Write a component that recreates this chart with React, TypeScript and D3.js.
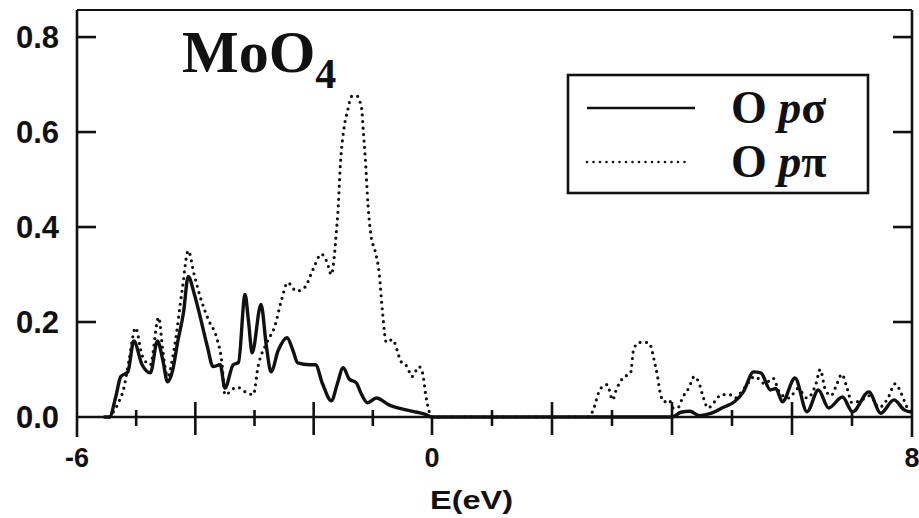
import React, { useEffect, useRef } from "react";
import * as d3 from "d3";

// O p-sigma partial DOS (solid)
const sigmaEnergy = [
  -5.55, -5.45, -5.35, -5.26, -5.14, -5.04, -4.9, -4.76, -4.64, -4.55, -4.47, -4.38, -4.3, -4.2, -4.12,
  -4.02, -3.92, -3.8, -3.7, -3.58, -3.5, -3.36, -3.27, -3.16, -3.1, -3.04, -2.89, -2.8, -2.72, -2.6,
  -2.45, -2.35, -2.27, -2.07, -1.97, -1.85, -1.7, -1.6, -1.5, -1.4, -1.28, -1.2, -1.09, -0.94, -0.72,
  -0.44, -0.25, -0.1, 0, 4.0, 4.15, 4.3, 4.45, 4.66, 4.85, 5.04, 5.19, 5.36, 5.48, 5.64, 5.73, 5.84,
  6.05, 6.25, 6.44, 6.61, 6.84, 7.01, 7.28, 7.48, 7.7, 7.87, 8.0,
];
const sigmaDos = [
  0, 0, 0.04, 0.085, 0.095, 0.16, 0.11, 0.093, 0.16, 0.12, 0.074, 0.1, 0.157, 0.22, 0.296,
  0.26, 0.212, 0.15, 0.106, 0.11, 0.061, 0.11, 0.115, 0.258, 0.2, 0.135, 0.237, 0.15, 0.095, 0.14,
  0.167, 0.14, 0.114, 0.11, 0.11, 0.07, 0.034, 0.07, 0.104, 0.08, 0.072, 0.05, 0.03, 0.04, 0.025,
  0.015, 0.01, 0.005, 0, 0, 0.01, 0.012, 0.003, 0.008, 0.02, 0.032, 0.053, 0.095, 0.093, 0.057, 0.06, 0.032,
  0.082, 0.011, 0.057, 0.019, 0.042, 0.011, 0.053, 0.008, 0.036, 0.015, 0.01,
];

// O p-pi partial DOS (dotted)
const piEnergy = [
  -5.45, -5.3, -5.21, -5.12, -5.01, -4.9, -4.76, -4.62, -4.55, -4.47, -4.35, -4.22, -4.12, -4.02, -3.92,
  -3.78, -3.63, -3.55, -3.5, -3.3, -3.13, -3.02, -2.94, -2.79, -2.66, -2.54, -2.44, -2.29, -2.15, -2.01,
  -1.87, -1.78, -1.7, -1.65, -1.61, -1.59, -1.55, -1.48, -1.43, -1.36, -1.28, -1.19, -1.16, -1.13, -1.08,
  -1.03, -0.96, -0.89, -0.84, -0.77, -0.67, -0.52, -0.42, -0.34, -0.22, -0.16, -0.1, 0, 2.6, 2.67,
  2.81, 2.92, 3.01, 3.07, 3.18, 3.31, 3.36, 3.45, 3.6, 3.65, 3.7, 3.76, 3.8, 3.87, 3.95, 4.02, 4.1,
  4.18, 4.28, 4.37, 4.45, 4.52, 4.6, 4.71, 4.82, 4.96, 5.05, 5.2, 5.38, 5.55, 5.68, 5.8, 5.95, 6.1,
  6.25, 6.4, 6.47, 6.55, 6.65, 6.75, 6.83, 6.92, 7.0, 7.15, 7.3, 7.45, 7.6, 7.72, 7.82, 7.92, 8.0,
];
const piDos = [
  0, 0.03, 0.06, 0.12, 0.188, 0.13, 0.11, 0.21, 0.14, 0.085, 0.15, 0.27, 0.35, 0.3, 0.254,
  0.205, 0.163, 0.114, 0.047, 0.063, 0.051, 0.047, 0.106, 0.157, 0.19, 0.248, 0.283, 0.265, 0.273, 0.311,
  0.343, 0.328, 0.3, 0.34, 0.4, 0.432, 0.529, 0.614, 0.643, 0.675, 0.677, 0.65, 0.6, 0.55, 0.444,
  0.381, 0.349, 0.3, 0.226, 0.157, 0.163, 0.116, 0.106, 0.085, 0.106, 0.093, 0.042, 0, 0, 0.01,
  0.06, 0.068, 0.036, 0.057, 0.082, 0.093, 0.142, 0.157, 0.157, 0.148, 0.121, 0.085, 0.053, 0.032, 0.036, 0.019, 0.02,
  0.042, 0.061, 0.085, 0.072, 0.042, 0.019, 0.032, 0.047, 0.047, 0.04, 0.06, 0.085, 0.07, 0.082, 0.05, 0.04, 0.06,
  0.04, 0.07, 0.1, 0.06, 0.045, 0.07, 0.09, 0.06, 0.03, 0.035, 0.045, 0.02, 0.04, 0.07, 0.05, 0.02, 0.01,
];

const yTicks = [0.0, 0.2, 0.4, 0.6, 0.8];
const yTickLabels = ["0.0", "0.2", "0.4", "0.6", "0.8"];
const xMajorTicks = [-4, -2, 0, 2, 4, 6];
const xMinorTicks = [-5, -3, -1, 1, 3, 5, 7];
const xTickLabels = [
  { v: -6, label: "-6" },
  { v: 0, label: "0" },
  { v: 8, label: "8" },
];
const legendLabels = [
  { greek: "σ", dotted: false },
  { greek: "π", dotted: true },
];

const W = 919;
const H = 518;

const App = () => {
  const svgRef = useRef<SVGSVGElement>(null);

  useEffect(() => {
    const svg = d3.select(svgRef.current);
    svg.selectAll("*").remove();

    // the scanned axis is slightly uneven, so split at 0
    const x = d3.scaleLinear().domain([-6, 0, 8]).range([77, 432, 912]);
    const y = d3.scaleLinear().domain([0, 0.857]).range([417, 10]);

    const line = d3
      .line<[number, number]>()
      .x((d) => x(d[0]))
      .y((d) => y(d[1]))
      .curve(d3.curveMonotoneX);

    const sigma = sigmaEnergy.map((e, i) => [e, sigmaDos[i]] as [number, number]);
    const pi = piEnergy.map((e, i) => [e, piDos[i]] as [number, number]);

    // curves
    svg
      .append("path")
      .attr("d", line(pi))
      .attr("fill", "none")
      .attr("stroke", "#111")
      .attr("stroke-width", 3.2)
      .attr("stroke-linecap", "round")
      .attr("stroke-dasharray", "0 6.5");

    svg
      .append("path")
      .attr("d", line(sigma))
      .attr("fill", "none")
      .attr("stroke", "#111")
      .attr("stroke-width", 3.4)
      .attr("stroke-linejoin", "round");

    // frame
    const frame = svg.append("g").attr("stroke", "#111").attr("stroke-width", 2.6);
    frame.append("line").attr("x1", x(-6)).attr("x2", x(8)).attr("y1", y(0.857)).attr("y2", y(0.857)).attr("stroke-width", 2);
    frame.append("line").attr("x1", x(-6)).attr("x2", x(8)).attr("y1", y(0)).attr("y2", y(0));
    frame.append("line").attr("x1", x(-6)).attr("x2", x(-6)).attr("y1", y(0.857)).attr("y2", y(0) + 20);
    frame.append("line").attr("x1", x(8)).attr("x2", x(8)).attr("y1", y(0.857)).attr("y2", y(0) + 20);

    // x ticks
    frame
      .selectAll(".xmaj")
      .data(xMajorTicks)
      .enter()
      .append("line")
      .attr("x1", (d) => x(d))
      .attr("x2", (d) => x(d))
      .attr("y1", (d) => y(0) - (d === 0 ? 0 : 15))
      .attr("y2", y(0) + 18);
    frame
      .selectAll(".xmin")
      .data(xMinorTicks)
      .enter()
      .append("line")
      .attr("x1", (d) => x(d))
      .attr("x2", (d) => x(d))
      .attr("y1", y(0) - 7)
      .attr("y2", y(0) + 9);

    // y ticks on both sides
    frame
      .selectAll(".yl")
      .data(yTicks.slice(1))
      .enter()
      .append("line")
      .attr("x1", x(-6))
      .attr("x2", x(-6) + 19)
      .attr("y1", (d) => y(d))
      .attr("y2", (d) => y(d));
    frame
      .selectAll(".yr")
      .data(yTicks.slice(1))
      .enter()
      .append("line")
      .attr("x1", x(8))
      .attr("x2", x(8) - 19)
      .attr("y1", (d) => y(d))
      .attr("y2", (d) => y(d));

    // y labels
    svg
      .selectAll(".ylab")
      .data(yTicks)
      .enter()
      .append("text")
      .attr("x", 59)
      .attr("y", (d) => y(d) + 11)
      .attr("text-anchor", "end")
      .attr("font-family", "Liberation Sans, Arial, sans-serif")
      .attr("font-weight", "bold")
      .attr("font-size", 31)
      .attr("fill", "#111")
      .text((d, i) => yTickLabels[i]);

    // x labels
    svg
      .selectAll(".xlab")
      .data(xTickLabels)
      .enter()
      .append("text")
      .attr("x", (d) => x(d.v))
      .attr("y", 467)
      .attr("text-anchor", "middle")
      .attr("font-family", "Liberation Sans, Arial, sans-serif")
      .attr("font-weight", "bold")
      .attr("font-size", 27)
      .attr("fill", "#111")
      .text((d) => d.label);

    svg
      .append("text")
      .attr("x", 430)
      .attr("y", 509)
      .attr("textLength", 83)
      .attr("lengthAdjust", "spacingAndGlyphs")
      .attr("font-family", "Liberation Sans, Arial, sans-serif")
      .attr("font-weight", "bold")
      .attr("font-size", 26)
      .attr("fill", "#111")
      .text("E(eV)");

    // title
    const title = svg
      .append("text")
      .attr("x", 182)
      .attr("y", 72)
      .attr("font-family", "Liberation Serif, Times New Roman, serif")
      .attr("font-weight", "bold")
      .attr("font-size", 60)
      .attr("fill", "#111");
    title.append("tspan").text("MoO");
    title.append("tspan").attr("font-size", 42).attr("dy", 16).text("4");

    // legend
    const lg = svg.append("g");
    lg.append("rect")
      .attr("x", 568)
      .attr("y", 75)
      .attr("width", 300)
      .attr("height", 118)
      .attr("fill", "white")
      .attr("stroke", "#111")
      .attr("stroke-width", 2.6);

    legendLabels.forEach((it, i) => {
      const ly = 108 + i * 54;
      lg.append("line")
        .attr("x1", 587)
        .attr("x2", it.dotted ? 690 : 695)
        .attr("y1", ly)
        .attr("y2", ly)
        .attr("stroke", "#111")
        .attr("stroke-width", it.dotted ? 2.6 : 2.4)
        .attr("stroke-linecap", it.dotted ? "round" : "butt")
        .attr("stroke-dasharray", it.dotted ? "0 6.5" : null);
      const t = lg
        .append("text")
        .attr("x", 731)
        .attr("y", ly + 15)
        .attr("font-family", "Liberation Serif, Times New Roman, serif")
        .attr("font-weight", "bold")
        .attr("font-size", 46)
        .attr("fill", "#111");
      t.append("tspan").text("O ");
      t.append("tspan").attr("font-style", "italic").text("p");
      t.append("tspan").text(it.greek);
    });
  }, []);

  return (
    <svg
      ref={svgRef}
      width={W}
      height={H}
      style={{ position: "absolute", left: 0, top: 0, background: "white" }}
    ></svg>
  );
};

export default App;
